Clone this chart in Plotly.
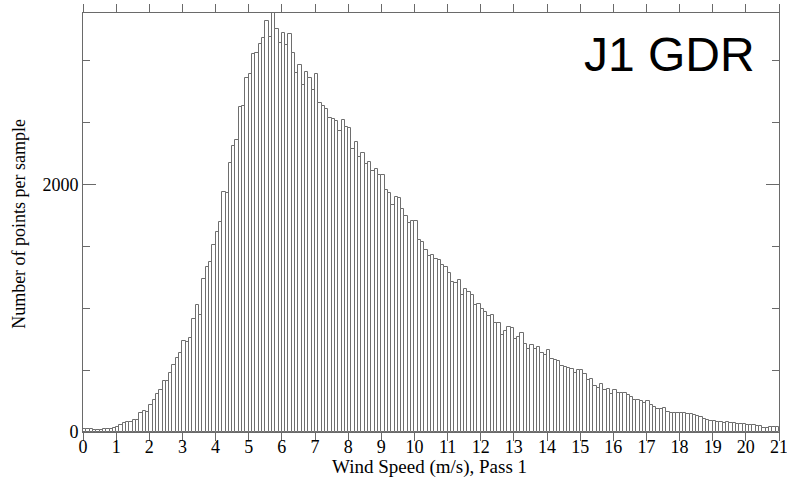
import numpy as np
import plotly.graph_objects as go

# Histogram of wind speed (bin width 0.1 m/s, 0 .. 21 m/s)
bin_width = 0.1
bin_left_edges = np.round(np.arange(0, 21, bin_width), 2)

counts = [
    24, 27, 27, 19, 19, 19, 24, 24, 24, 35,            # 0.0 - 0.9
    40, 54, 75, 81, 81, 94, 99, 156, 169, 164,         # 1.x
    218, 255, 309, 341, 409, 409, 476, 543, 599, 640,  # 2.x
    739, 728, 763, 914, 1027, 949, 1234, 1336, 1371, 1510,  # 3.x
    1619, 1694, 1941, 1930, 2177, 2312, 2355, 2627, 2635, 2863,  # 4.x
    2890, 3051, 3059, 3132, 3180, 3320, 3191, 3385, 3253, 3140,  # 5.x
    3226, 3130, 3218, 3059, 2903, 2962, 2803, 2911, 2862, 2760,  # 6.x
    2895, 2661, 2634, 2608, 2535, 2527, 2514, 2433, 2519, 2468,  # 7.x
    2460, 2285, 2344, 2218, 2250, 2164, 2183, 2110, 2124, 2075,  # 8.x
    2075, 1954, 1927, 1836, 1900, 1890, 1801, 1748, 1689, 1708,  # 9.x
    1708, 1551, 1533, 1471, 1425, 1433, 1398, 1392, 1352, 1331,  # 10.x
    1285, 1215, 1204, 1229, 1108, 1153, 1134, 1108, 1027, 1035,  # 11.x
    995, 968, 941, 949, 882, 882, 785, 812, 852, 841,            # 12.x
    753, 766, 799, 707, 667, 705, 667, 685, 637, 626,            # 13.x
    659, 592, 578, 573, 530, 524, 519, 511, 476, 497,            # 14.x
    503, 465, 417, 430, 368, 358, 385, 342, 350, 304,            # 15.x
    342, 318, 318, 315, 296, 282, 261, 255, 247, 234,            # 16.x
    247, 215, 202, 188, 188, 196, 161, 153, 153, 153,            # 17.x
    153, 153, 148, 142, 134, 129, 121, 108, 94, 90,              # 18.x
    88, 80, 84, 76, 78, 72, 74, 66, 64, 62,                      # 19.x
    60, 58, 55, 50, 45, 36, 35, 38, 40, 40,                      # 20.x
]

x_tick_values = list(range(0, 22))
y_tick_values = [0, 2000]
y_minor_step = 500

title_text = "J1 GDR"
x_title = "Wind Speed (m/s), Pass 1"
y_title = "Number of points per sample"

axis_color = "#6a6a6a"
serif = "Liberation Serif, Times New Roman, serif"

fig = go.Figure()
fig.add_trace(go.Bar(
    x=bin_left_edges,
    y=counts,
    width=bin_width,
    offset=0,
    marker=dict(color="white", line=dict(color="#6e6e6e", width=1)),
    showlegend=False,
))

fig.update_layout(
    width=787, height=486,
    margin=dict(l=83, r=8, t=13, b=54),
    paper_bgcolor="white", plot_bgcolor="white",
    bargap=0,
    font=dict(family=serif, size=18, color="black"),
    xaxis=dict(
        range=[0, 21], tickmode="array", tickvals=x_tick_values,
        ticks="outside", ticklen=8, tickwidth=1, tickcolor=axis_color,
        showline=True, linecolor=axis_color, linewidth=1, mirror="ticks",
        showgrid=False, zeroline=False, automargin=False,
        ticklabelstandoff=-10, ticklabeloverflow="allow",
        tickfont=dict(family=serif, size=18, color="black"),
    ),
    yaxis=dict(
        range=[0, 3385], tickmode="array", tickvals=y_tick_values,
        ticks="inside", ticklen=13, tickwidth=1, tickcolor=axis_color,
        minor=dict(dtick=y_minor_step, tick0=0, ticks="inside", ticklen=7,
                   tickwidth=1, tickcolor=axis_color),
        showline=True, linecolor=axis_color, linewidth=1, mirror="ticks",
        showgrid=False, zeroline=False, automargin=False,
        ticklabeloverflow="allow",
        tickfont=dict(family=serif, size=18, color="black"),
    ),
    annotations=[
        dict(text=title_text, xref="paper", yref="paper", x=0.968, y=0.901,
             xanchor="right", yanchor="middle", showarrow=False,
             font=dict(family="Liberation Sans, Arial, sans-serif", size=48, color="black")),
        dict(text=x_title, xref="paper", yref="paper", x=0.4977, y=-0.084,
             xanchor="center", yanchor="middle", showarrow=False,
             font=dict(family=serif, size=19, color="black")),
        dict(text=y_title, xref="paper", yref="paper", x=-0.0924, y=0.496,
             xanchor="center", yanchor="middle", showarrow=False, textangle=-90,
             font=dict(family=serif, size=18, color="black")),
    ],
)

fig.write_html("out.html")
